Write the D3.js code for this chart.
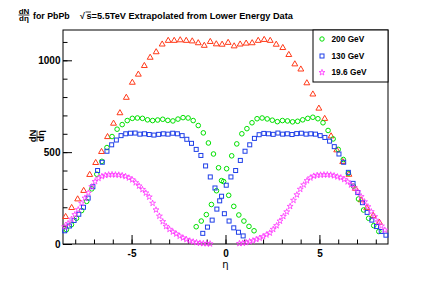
<!DOCTYPE html>
<html>
<head>
<meta charset="utf-8">
<script src="https://cdn.jsdelivr.net/npm/d3@7"></script>
<style>
  body { margin: 0; background: #fff; }
  svg { display: block; font-family: "Liberation Sans", Arial, sans-serif; }
</style>
</head>
<body>
<div id="chart"></div>
<script>
// extrapolated 5.5 TeV (red triangles)
const etaLHC = [-8.51,-8.19,-7.87,-7.55,-7.23,-6.91,-6.60,-6.28,-5.96,-5.62,-5.28,-4.96,-4.64,-4.32,-4.01,-3.69,-3.37,-3.05,-2.73,-2.41,-2.09,-1.77,-1.45,-1.13,-0.81,-0.49,-0.18,0.14,0.46,0.78,1.10,1.42,1.74,2.06,2.38,2.70,3.05,3.37,3.69,4.01,4.33,4.65,4.97,5.28,5.62,5.92,6.24,6.57,6.91,7.22,7.52,7.86,8.19];
const dnLHC = [148,197,244,290,377,442,502,583,656,713,797,879,923,970,1015,1045,1087,1107,1107,1110,1107,1104,1094,1080,1101,1088,1086,1096,1077,1087,1092,1094,1107,1112,1107,1086,1068,1030,979,951,876,815,738,682,587,511,447,378,302,239,196,154,117];

// 200 GeV, both shifted halves (green circles)
const eta200 = [-8.47,-8.20,-7.93,-7.66,-7.39,-7.12,-6.85,-6.58,-6.31,-6.04,-5.77,-5.50,-5.23,-4.96,-4.69,-4.42,-4.15,-3.88,-3.61,-3.34,-3.07,-2.80,-2.53,-2.26,-1.99,-1.72,-1.45,-1.18,-0.91,-0.64,-0.37,-0.10,0.17,0.44,0.71,0.98,1.25,1.52,
  -1.56,-1.29,-1.02,-0.75,-0.48,-0.21,0.06,0.33,0.60,0.87,1.14,1.41,1.68,1.95,2.22,2.49,2.76,3.03,3.30,3.57,3.84,4.11,4.38,4.65,4.92,5.19,5.46,5.73,6.00,6.27,6.54,6.81,7.08,7.35,7.62,7.89,8.16];
const dn200 = [78,105,140,182,232,300,380,450,525,585,625,650,672,684,686,684,676,672,675,679,673,670,680,688,686,672,645,605,550,490,415,340,265,205,158,125,96,72,
  94,125,160,215,290,345,410,480,545,600,628,660,682,686,681,674,666,672,670,665,668,676,684,690,682,660,618,572,515,460,385,315,245,185,140,100,68];

// 130 GeV (blue squares)
const eta130 = [-8.56,-8.31,-8.06,-7.81,-7.56,-7.31,-7.06,-6.81,-6.56,-6.31,-6.06,-5.81,-5.56,-5.31,-5.06,-4.81,-4.56,-4.31,-4.06,-3.81,-3.56,-3.31,-3.06,-2.81,-2.56,-2.31,-2.06,-1.81,-1.56,-1.31,-1.06,-0.81,-0.56,-0.31,-0.06,0.19,0.44,0.69,0.94,
  -1.21,-0.96,-0.71,-0.46,-0.21,0.04,0.29,0.54,0.79,1.04,1.29,1.54,1.79,2.04,2.29,2.54,2.79,3.04,3.29,3.54,3.79,4.04,4.29,4.54,4.79,5.04,5.29,5.54,5.79,6.04,6.29,6.54,6.79,7.04,7.29,7.54,7.79,8.04,8.29,8.54];
const dn130 = [72,98,128,162,200,250,312,400,445,505,540,566,590,600,603,604,598,600,596,593,597,600,598,603,600,590,570,548,515,482,425,365,305,235,165,125,88,64,44,
  58,92,130,190,260,320,365,400,455,505,540,575,595,602,600,597,604,598,600,596,601,603,598,600,598,590,580,560,530,490,445,390,330,280,225,172,130,95,68,48];

// 19.6 GeV (magenta stars)
const eta19 = [-8.56,-8.38,-8.20,-8.02,-7.84,-7.66,-7.48,-7.30,-7.12,-6.94,-6.76,-6.58,-6.40,-6.22,-6.04,-5.86,-5.68,-5.50,-5.32,-5.14,-4.96,-4.78,-4.60,-4.42,-4.24,-4.06,-3.88,-3.70,-3.52,-3.34,-3.16,-2.98,-2.80,-2.62,-2.44,-2.26,-2.08,-1.90,-1.72,-1.54,-1.36,-1.18,-1.00,-0.82,
  0.74,0.92,1.10,1.28,1.46,1.64,1.82,2.00,2.18,2.36,2.54,2.72,2.90,3.08,3.26,3.44,3.62,3.80,3.98,4.16,4.34,4.52,4.70,4.88,5.06,5.24,5.42,5.60,5.78,5.96,6.14,6.32,6.50,6.68,6.86,7.04,7.22,7.40,7.58,7.76,7.94,8.12,8.30,8.48];
const dn19 = [94,112,135,160,187,222,250,278,312,340,358,368,374,377,378,377,376,373,368,360,350,334,316,297,278,256,222,186,152,122,96,80,66,55,43,33,25,17,12,8,5,3,2,1,
  3,5,8,13,18,25,32,40,50,60,80,100,125,150,175,205,238,268,298,322,345,360,370,374,376,377,377,376,372,366,361,352,339,322,306,284,258,230,203,176,149,121,98,76];

const seriesNames = ["200 GeV", "130 GeV", "19.6 GeV"];
const xTicksMajor = [-5, 0, 5];
const yTicksMajor = [0, 500, 1000];

const margin = { LEFT: 63, RIGHT: 44, TOP: 30, BOTTOM: 44 };
const width = 432 - margin.LEFT - margin.RIGHT;
const height = 288 - margin.TOP - margin.BOTTOM;

const svg = d3.select("#chart").append("svg")
    .attr("width", 432)
    .attr("height", 288);

const g = svg.append("g")
    .attr("transform", `translate(${margin.LEFT}, ${margin.TOP})`);

const x = d3.scaleLinear().domain([-8.65, 8.65]).range([0, width]);
const y = d3.scaleLinear().domain([0, 1165]).range([height, 0]);

// minor ticks (no labels)
g.append("g")
    .attr("transform", `translate(0, ${height})`)
    .call(d3.axisBottom(x).tickValues(d3.range(-8, 9)).tickSize(-4.5).tickFormat(""))
    .call(a => a.select(".domain").remove());
g.append("g")
    .call(d3.axisLeft(y).tickValues(d3.range(0, 1200, 100)).tickSize(-4.5).tickFormat(""))
    .call(a => a.select(".domain").remove());

// major ticks + labels
const xAxisG = g.append("g")
    .attr("transform", `translate(0, ${height})`)
    .call(d3.axisBottom(x).tickValues(xTicksMajor).tickSize(-9).tickPadding(6).tickFormat(d => String(d)));
const yAxisG = g.append("g")
    .call(d3.axisLeft(y).tickValues(yTicksMajor).tickSize(-9).tickPadding(2.5).tickFormat(d => String(d)));
[xAxisG, yAxisG].forEach(a => {
    a.select(".domain").remove();
    a.selectAll("text").attr("font-size", "10px").attr("font-weight", "bold")
        .attr("font-family", "Liberation Sans, Arial, sans-serif").attr("fill", "#000");
});
g.selectAll(".tick line").attr("stroke", "#000");

// frame
g.append("rect")
    .attr("width", width).attr("height", height)
    .attr("fill", "none").attr("stroke", "#000").attr("stroke-width", 1);

// data markers
const pts = (etas, vals) => etas.map((e, i) => ({ eta: e, v: vals[i] }));

g.selectAll(".tri").data(pts(etaLHC, dnLHC)).enter().append("path")
    .attr("class", "tri")
    .attr("d", d3.symbol(d3.symbolTriangle, 15))
    .attr("transform", d => `translate(${x(d.eta)}, ${y(d.v)})`)
    .attr("fill", "none").attr("stroke", "#ff3a1a").attr("stroke-width", 1);

g.selectAll(".circ").data(pts(eta200, dn200)).enter().append("circle")
    .attr("class", "circ")
    .attr("cx", d => x(d.eta)).attr("cy", d => y(d.v)).attr("r", 2.3)
    .attr("fill", "none").attr("stroke", "#00e000").attr("stroke-width", 1);

g.selectAll(".sq").data(pts(eta130, dn130)).enter().append("rect")
    .attr("class", "sq")
    .attr("x", d => x(d.eta) - 2).attr("y", d => y(d.v) - 2)
    .attr("width", 4).attr("height", 4)
    .attr("fill", "none").attr("stroke", "#1f3fe8").attr("stroke-width", 1);

g.selectAll(".star").data(pts(eta19, dn19)).enter().append("path")
    .attr("class", "star")
    .attr("d", d3.symbol(d3.symbolStar, 11))
    .attr("transform", d => `translate(${x(d.eta)}, ${y(d.v)})`)
    .attr("fill", "none").attr("stroke", "#ff33ff").attr("stroke-width", 0.8);

// axis titles
svg.append("text")
    .attr("x", x(0) + margin.LEFT).attr("y", 268)
    .attr("text-anchor", "middle")
    .attr("font-size", "10px")
    .attr("font-family", "DejaVu Sans, sans-serif")
    .text("η");

function fraction(parent, cx, cy, size) {
    const f = parent.append("g").attr("transform", `translate(${cx}, ${cy})`);
    f.append("text").attr("y", -1.5).attr("text-anchor", "middle")
        .attr("font-size", size).attr("font-weight", "bold").text("dN");
    f.append("line").attr("x1", -5.5).attr("x2", 5.5).attr("y1", 0).attr("y2", 0)
        .attr("stroke", "#000").attr("stroke-width", 0.8);
    f.append("text").attr("y", size * 0.72 + 0.5).attr("text-anchor", "middle")
        .attr("font-size", size).attr("font-weight", "bold").text("dη");
    return f;
}

const yTitle = svg.append("g").attr("transform", "translate(37, 136) rotate(-90)");
fraction(yTitle, 0, 0, 9.5);

// title
fraction(svg, 24, 15, 8);
svg.append("text").attr("x", 33).attr("y", 19)
    .attr("font-size", "8.8px").attr("font-weight", "bold").text("for PbPb");
svg.append("text").attr("x", 80).attr("y", 19)
    .attr("font-size", "8.8px").attr("font-weight", "bold").text("√");
svg.append("text").attr("x", 86.5).attr("y", 19)
    .attr("font-size", "9.2px").attr("font-weight", "bold")
    .text("s=5.5TeV Extrapolated from Lower Energy Data");
svg.append("line").attr("x1", 85.5).attr("x2", 91).attr("y1", 12).attr("y2", 12)
    .attr("stroke", "#000").attr("stroke-width", 0.8);

// legend
const legend = svg.append("g").attr("transform", "translate(313, 30)");
legend.append("rect")
    .attr("width", 75).attr("height", 52)
    .attr("fill", "#fff").attr("stroke", "#000").attr("stroke-width", 1);
const legY = [9, 26, 42.5];
legend.append("circle").attr("cx", 9).attr("cy", legY[0]).attr("r", 2.2)
    .attr("fill", "none").attr("stroke", "#00e000");
legend.append("rect").attr("x", 7).attr("y", legY[1] - 2).attr("width", 4).attr("height", 4)
    .attr("fill", "none").attr("stroke", "#1f3fe8");
legend.append("path").attr("d", d3.symbol(d3.symbolStar, 11))
    .attr("transform", `translate(9, ${legY[2]})`)
    .attr("fill", "none").attr("stroke", "#ff33ff").attr("stroke-width", 0.8);
seriesNames.forEach((s, i) => {
    legend.append("text").attr("x", 18.5).attr("y", legY[i]).attr("dy", "0.35em")
        .attr("font-size", "8.3px").attr("font-weight", "bold").text(s);
});
</script>
</body>
</html>
